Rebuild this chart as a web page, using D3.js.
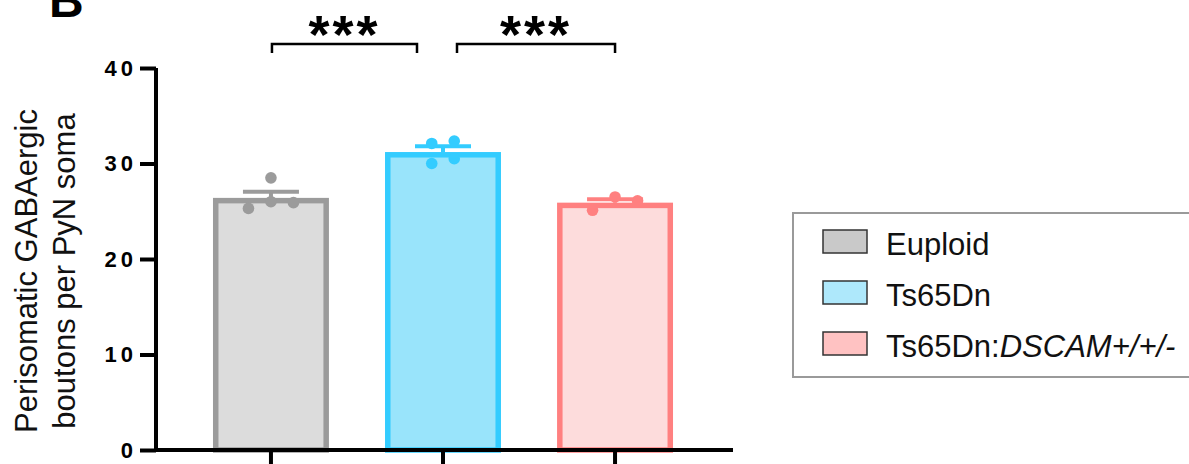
<!DOCTYPE html>
<html>
<head>
<meta charset="utf-8">
<script src="https://cdn.jsdelivr.net/npm/d3@7"></script>
<style>
  html, body { margin: 0; padding: 0; background: #fff; }
  svg { display: block; font-family: "Liberation Sans", Arial, Helvetica, sans-serif; }
</style>
</head>
<body>
<svg id="chart" width="1189" height="464"></svg>
<script>
// Group names, means, SEMs and the individual animals per group
const categories = ["Euploid", "Ts65Dn", "Ts65Dn:DSCAM+/+/-"];
const means = [26.4, 31.2, 25.9];
const sems = [0.65, 0.6, 0.35];
const euploidPoints = [25.3, 26.0, 25.9, 28.5];
const ts65dnPoints = [32.1, 32.35, 30.0, 30.5];
const dscamPoints = [25.1, 26.5, 26.1];
const yTicks = [0, 10, 20, 30, 40];
const comparisons = [["Euploid", "Ts65Dn", "***"], ["Ts65Dn", "Ts65Dn:DSCAM+/+/-", "***"]];

const pointSets = [euploidPoints, ts65dnPoints, dscamPoints];
const strokeColors = ["#9b9b9b", "#33ccff", "#ff8080"];
const fillColors = ["#dcdcdc", "#99e4fb", "#fddcdc"];
const swatchColors = ["#c9c9c9", "#aee8fb", "#ffc2c2"];

const svg = d3.select("#chart");

const axisX = 156;          // y axis position
const plotRight = 733;      // end of the x axis line
const y = d3.scaleLinear().domain([0, 40]).range([450, 68]);
const x = d3.scaleBand().domain(categories).range([155, 731])
  .paddingInner(0.326).paddingOuter(0.337);
const bw = x.bandwidth();
const cx = c => x(c) + bw / 2;

// Panel letter
svg.append("text").attr("x", 49).attr("y", 17)
  .attr("font-size", 48).attr("font-weight", "bold").text("B");

// Bars: outer edge at the mean, border drawn inward
const sw = 5.5;
categories.forEach((c, i) => {
  svg.append("rect")
    .attr("x", x(c) + sw / 2)
    .attr("y", y(means[i]) + sw / 2)
    .attr("width", bw - sw)
    .attr("height", y(0) - y(means[i]) - sw / 2)
    .attr("fill", fillColors[i])
    .attr("stroke", strokeColors[i])
    .attr("stroke-width", sw);
});

// Error bars (mean + SEM)
const capHalf = 28;
categories.forEach((c, i) => {
  const g = svg.append("g").attr("stroke", strokeColors[i]).attr("stroke-width", 4);
  g.append("line").attr("x1", cx(c)).attr("x2", cx(c))
    .attr("y1", y(means[i])).attr("y2", y(means[i] + sems[i]));
  g.append("line").attr("x1", cx(c) - capHalf).attr("x2", cx(c) + capHalf)
    .attr("y1", y(means[i] + sems[i])).attr("y2", y(means[i] + sems[i]));
});

// Scatter points: values close together share a row and are spread sideways
const dotR = 5.8;
const slot = 22.5;
function spread(values) {
  const sorted = values.map((v, k) => ({ v, k })).sort((a, b) => a.v - b.v);
  const rows = [];
  sorted.forEach(d => {
    const last = rows[rows.length - 1];
    if (last && Math.abs(y(d.v) - y(last[last.length - 1].v)) < 10.5) last.push(d);
    else rows.push([d]);
  });
  const out = [];
  rows.forEach(row => {
    const n = row.length;
    const offsets = d3.range(n).map(j => (j - (n - 1) / 2) * slot);
    // fill order: left, right, then towards the middle
    const order = [];
    let lo = 0, hi = n - 1;
    while (lo <= hi) { order.push(lo); if (hi !== lo) order.push(hi); lo++; hi--; }
    row.forEach((d, j) => out.push({ v: d.v, dx: offsets[order[j]] }));
  });
  return out;
}
categories.forEach((c, i) => {
  svg.append("g").selectAll("circle").data(spread(pointSets[i])).join("circle")
    .attr("cx", d => cx(c) + d.dx)
    .attr("cy", d => y(d.v))
    .attr("r", dotR)
    .attr("fill", strokeColors[i]);
});

// Y axis
const yAxis = svg.append("g").attr("transform", `translate(${axisX},0)`)
  .call(d3.axisLeft(y).tickValues(yTicks).tickSize(16).tickPadding(3).tickFormat(d3.format("d")));
yAxis.select(".domain").attr("stroke-width", 4).attr("stroke", "#000")
  .attr("d", `M0,${y(40)}V${y(0)}`);
yAxis.selectAll(".tick line").attr("stroke-width", 4).attr("stroke", "#000");
yAxis.selectAll(".tick text")
  .attr("font-size", 22).attr("font-weight", "bold")
  .attr("letter-spacing", 4).attr("fill", "#000")
  .attr("font-family", "\"Liberation Sans\", Arial, sans-serif");

// X axis with category ticks, no labels
const xAxis = svg.append("g").attr("transform", `translate(0,${y(0)})`)
  .call(d3.axisBottom(x).tickSize(20).tickFormat(""));
xAxis.select(".domain").attr("stroke-width", 4).attr("stroke", "#000")
  .attr("d", `M${axisX - 2},0H${plotRight}`);
xAxis.selectAll(".tick line").attr("stroke-width", 4).attr("stroke", "#000");

// Y axis title
const title = svg.append("text")
  .attr("transform", `translate(0,271) rotate(-90)`)
  .attr("text-anchor", "middle").attr("font-size", 31).attr("fill", "#111");
title.append("tspan").attr("x", 0).attr("y", 37).text("Perisomatic GABAergic");
title.append("tspan").attr("x", 0).attr("y", 75).text("boutons per PyN soma");

// Significance brackets
const bracketY = 44, legY = 53;
comparisons.forEach(([a, b, label], k) => {
  const x1 = cx(a) + (k === 0 ? 1 : 14), x2 = cx(b) - (k === 0 ? 26 : 0);
  svg.append("path")
    .attr("d", `M${x1},${legY}V${bracketY}H${x2}V${legY}`)
    .attr("fill", "none").attr("stroke", "#000").attr("stroke-width", 2.5);
  svg.append("text").attr("x", (x1 + x2) / 2).attr("y", 53)
    .attr("text-anchor", "middle").attr("font-size", 54).attr("font-weight", "bold")
    .attr("letter-spacing", 3).text(label);
});

// Legend
const legend = svg.append("g");
legend.append("rect").attr("x", 793).attr("y", 213).attr("width", 420).attr("height", 164)
  .attr("fill", "#fff").attr("stroke", "#9a9a9a").attr("stroke-width", 2);
categories.forEach((c, i) => {
  const rowY = 230 + i * 51;
  legend.append("rect").attr("x", 823).attr("y", rowY).attr("width", 44).attr("height", 23)
    .attr("fill", swatchColors[i]).attr("stroke", "#333").attr("stroke-width", 1.5);
  const t = legend.append("text").attr("x", 886).attr("y", rowY + 25)
    .attr("font-size", 31).attr("fill", "#111");
  const parts = c.split(":");
  t.append("tspan").text(parts[0] + (parts.length > 1 ? ":" : ""));
  if (parts.length > 1) t.append("tspan").attr("font-style", "italic").text(parts[1]);
});
</script>
</body>
</html>
